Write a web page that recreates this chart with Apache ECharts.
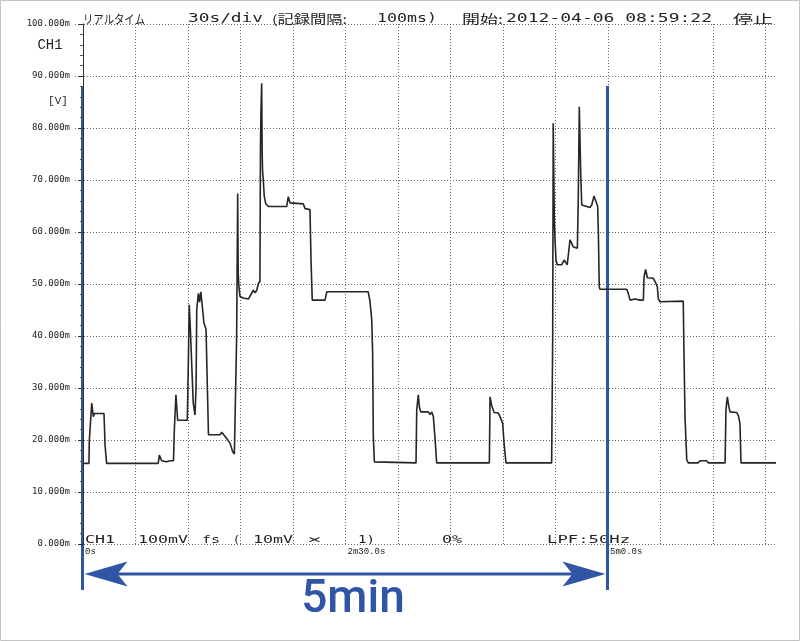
<!DOCTYPE html>
<html><head><meta charset="utf-8">
<script src="https://cdn.jsdelivr.net/npm/echarts@6/dist/echarts.min.js"></script>
<style>html,body{margin:0;padding:0;background:#fff}#c{width:800px;height:641px}</style>
</head><body><div id="c"></div>
<script>
// ---- data (seconds, millivolts) ----
const timeSec = [0.6,3.4,3.6,5.0,5.9,6.6,12.0,12.6,13.5,43.0,43.6,45.0,47.8,48.6,49.7,51.7,52.2,53.1,54.1,59.6,60.2,60.7,61.4,62.1,63.0,64.0,64.6,65.0,65.9,66.6,67.3,68.4,69.1,70.3,71.4,71.7,78.3,79.3,82.1,84.0,85.5,86.5,87.4,87.8,88.4,88.7,89.1,89.7,91.6,94.5,95.4,97.3,98.3,99.3,100.2,101.1,101.4,101.7,102.1,102.4,102.6,103.0,103.6,104.4,105.9,116.4,117.3,118.3,119.1,125.9,126.9,129.7,130.3,131.0,138.3,139.3,163.0,164.0,165.0,165.5,165.9,166.5,190.3,190.7,191.6,192.2,193.0,197.3,198.3,199.3,200.2,201.1,202.1,232.2,232.6,233.5,234.1,234.9,237.3,238.3,239.8,240.6,241.7,267.8,268.4,268.7,269.3,269.7,270.3,271.0,273.5,274.9,276.0,276.7,278.3,279.3,280.2,282.5,283.0,283.6,284.0,284.4,285.0,286.9,289.7,290.7,292.0,293.1,294.1,294.5,295.0,295.4,310.7,311.6,312.6,315.4,318.3,320.2,320.6,321.5,322.5,325.9,327.4,328.2,328.7,329.7,343.0,343.4,344.0,345.0,345.9,351.4,352.6,356.4,357.3,366.9,367.4,368.2,369.0,369.7,373.5,374.5,375.4,376.0,396.0];
const valueMilliV = [15.5,15.5,19.8,27.1,24.5,25.1,25.1,19.0,15.5,15.5,17.1,16.0,15.8,15.5,16.0,16.0,22.0,28.7,23.8,23.8,35.0,46.0,41.0,34.8,27.1,24.8,30.0,45.0,48.2,46.5,48.5,45.0,42.5,41.3,41.2,21.0,21.0,21.5,20.3,19.4,17.8,17.3,17.6,40.0,67.4,52.1,49.5,47.6,47.3,47.1,46.9,48.8,48.3,48.8,50.1,50.5,76.4,83.5,88.6,75.0,71.9,70.0,66.8,65.5,64.9,64.9,66.8,65.6,65.3,65.4,64.5,64.3,54.6,46.9,46.9,48.5,48.5,46.6,43.1,36.7,20.6,15.8,15.6,25.8,28.7,26.4,25.4,25.4,24.9,25.4,24.5,20.6,15.6,15.6,28.3,26.7,27.0,25.3,25.2,24.5,23.2,19.4,15.6,15.6,40.0,80.9,62.9,58.5,54.6,53.7,53.7,54.6,54.1,53.7,58.5,57.8,57.1,56.9,66.2,84.1,78.0,71.3,65.2,65.0,64.7,65.2,66.9,65.9,64.9,59.8,49.5,49.0,49.0,48.2,46.9,47.1,46.9,46.9,51.4,52.8,51.2,51.1,50.1,49.5,47.2,46.6,46.7,37.3,24.5,16.2,15.6,15.6,16.0,16.0,15.6,15.6,25.8,28.3,26.5,25.4,25.3,24.7,23.2,15.6,15.6];
const xTickLabels = {0:'0s', 150:'2m30.0s', 300:'5m0.0s'};
const headerTexts = ['リアルタイム','30s/div','(記録間隔:','100ms)','開始:','2012-04-06 08:59:22','停止'];
const footerTexts = ['CH1','100mV','fs','(','10mV','×','1)','0%','LPF:50Hz'];
const spanStart = 0, spanEnd = 300, spanLabel = '5min';

// ---- layout ----
const headerPos = [[83,145],[188,263],[272,347],[377,437],[462,503],[506,712],[733,773]];
const footerPos = [[85,115],[138,188],[202,220],[233,240],[253,293],[307,322],[358,375],[442,462],[547,630]];
const BLUE = '#2f55a4';

const chart = echarts.init(document.getElementById('c'), null, {renderer:'canvas'});
const series = timeSec.map((t,i)=>[t, valueMilliV[i]]);
const dotted = {color:'#666', width:1, type:[1,2]};

chart.setOption({
  animation:false,
  backgroundColor:'#fff',
  grid:[
    {left:75, right:24, top:24, bottom:97},
    {left:83, right:34.5, top:24, bottom:97}
  ],
  xAxis:[
    {gridIndex:0, type:'value', min:-8/1.75, max:396, show:false},
    {gridIndex:1, type:'value', min:0, max:390, interval:30,
     axisLine:{show:false}, axisTick:{show:false},
     splitLine:{show:true, lineStyle:dotted},
     axisLabel:{show:true, margin:3, align:'left', padding:[0,0,0,2],
       fontSize:9, fontFamily:"'Liberation Mono', monospace", color:'#222',
       formatter:v=> xTickLabels[v] || ''}}
  ],
  yAxis:[
    {gridIndex:0, type:'value', min:0, max:100, interval:10,
     axisLine:{show:true, lineStyle:{color:'#333', width:1}},
     axisTick:{show:true, length:5, lineStyle:{color:'#333'}},
     minorTick:{show:true, splitNumber:5, length:3, lineStyle:{color:'#555'}},
     splitLine:{show:true, lineStyle:dotted},
     axisLabel:{margin:5, fontSize:9, fontFamily:"'DejaVu Sans Mono', monospace", color:'#222',
       formatter:v=> v.toFixed(3)+'m'}},
    {gridIndex:1, type:'value', min:0, max:100, show:false}
  ],
  series:[{
    type:'line', xAxisIndex:0, yAxisIndex:0, data:series, showSymbol:false,
    lineStyle:{color:'#262626', width:1.6}, clip:true
  }]
});

// ---- texts & annotation ----
const cv = document.createElement('canvas').getContext('2d');
function fitText(str, left, right, cy, size, family, fill){
  const font = size+'px '+family;
  cv.font = font;
  const w = cv.measureText(str).width || 1;
  return {type:'text', x:left, y:cy, scaleX:(right-left)/w, silent:true,
    style:{text:str, font:font, fill:fill||'#222', textAlign:'left', align:'left',
           textVerticalAlign:'middle', verticalAlign:'middle'}};
}
const mono = "'DejaVu Sans Mono', monospace";
const cjk = "'Noto Sans CJK JP', sans-serif";
const els = [];
headerTexts.forEach((s,i)=>{
  const isCjk = /[^\x00-\x7f]/.test(s);
  els.push(fitText(s, headerPos[i][0], headerPos[i][1], 19, 12, isCjk? cjk : mono));
});
footerTexts.forEach((s,i)=>{
  els.push(fitText(s, footerPos[i][0], footerPos[i][1], 540, 11, mono));
});
els.push({type:'text', x:50, y:45, silent:true, style:{text:'CH1', font:"14px 'Liberation Mono', monospace", fill:'#222', textAlign:'center', align:'center', textVerticalAlign:'middle', verticalAlign:'middle'}});
els.push({type:'text', x:58, y:101, silent:true, style:{text:'[V]', font:"11px 'Liberation Mono', monospace", fill:'#222', textAlign:'center', align:'center', textVerticalAlign:'middle', verticalAlign:'middle'}});

const p0 = chart.convertToPixel({xAxisIndex:0, yAxisIndex:0}, [spanStart, 0]);
const p1 = chart.convertToPixel({xAxisIndex:0, yAxisIndex:0}, [spanEnd, 0]);
const xa = p0[0]-0.5, xb = p1[0]-0.5, ay = 574, topY = 86, botY = 590;
els.push({type:'line', silent:true, shape:{x1:xa, y1:topY, x2:xa, y2:botY}, style:{stroke:BLUE, lineWidth:3}});
els.push({type:'line', silent:true, shape:{x1:xb, y1:topY, x2:xb, y2:botY}, style:{stroke:BLUE, lineWidth:3}});
els.push({type:'line', silent:true, shape:{x1:xa+30, y1:ay, x2:xb-30, y2:ay}, style:{stroke:BLUE, lineWidth:3}});
els.push({type:'polygon', silent:true, shape:{points:[[xa+2,ay],[xa+45,ay-12.5],[xa+35,ay],[xa+45,ay+12.5]]}, style:{fill:BLUE}});
els.push({type:'polygon', silent:true, shape:{points:[[xb-2,ay],[xb-45,ay-12.5],[xb-35,ay],[xb-45,ay+12.5]]}, style:{fill:BLUE}});
els.push({type:'text', x:(xa+xb)/2+8, y:623, silent:true, style:{text:spanLabel, font:"500 46px Roboto, 'Liberation Sans', sans-serif", fill:BLUE, textAlign:'center', align:'center', textVerticalAlign:'bottom', verticalAlign:'bottom'}});
els.push({type:'rect', silent:true, shape:{x:0.5, y:0.5, width:799, height:640}, style:{fill:'none', stroke:'#c4c4c4', lineWidth:1}});

chart.setOption({graphic:{elements:els}});
</script></body></html>
